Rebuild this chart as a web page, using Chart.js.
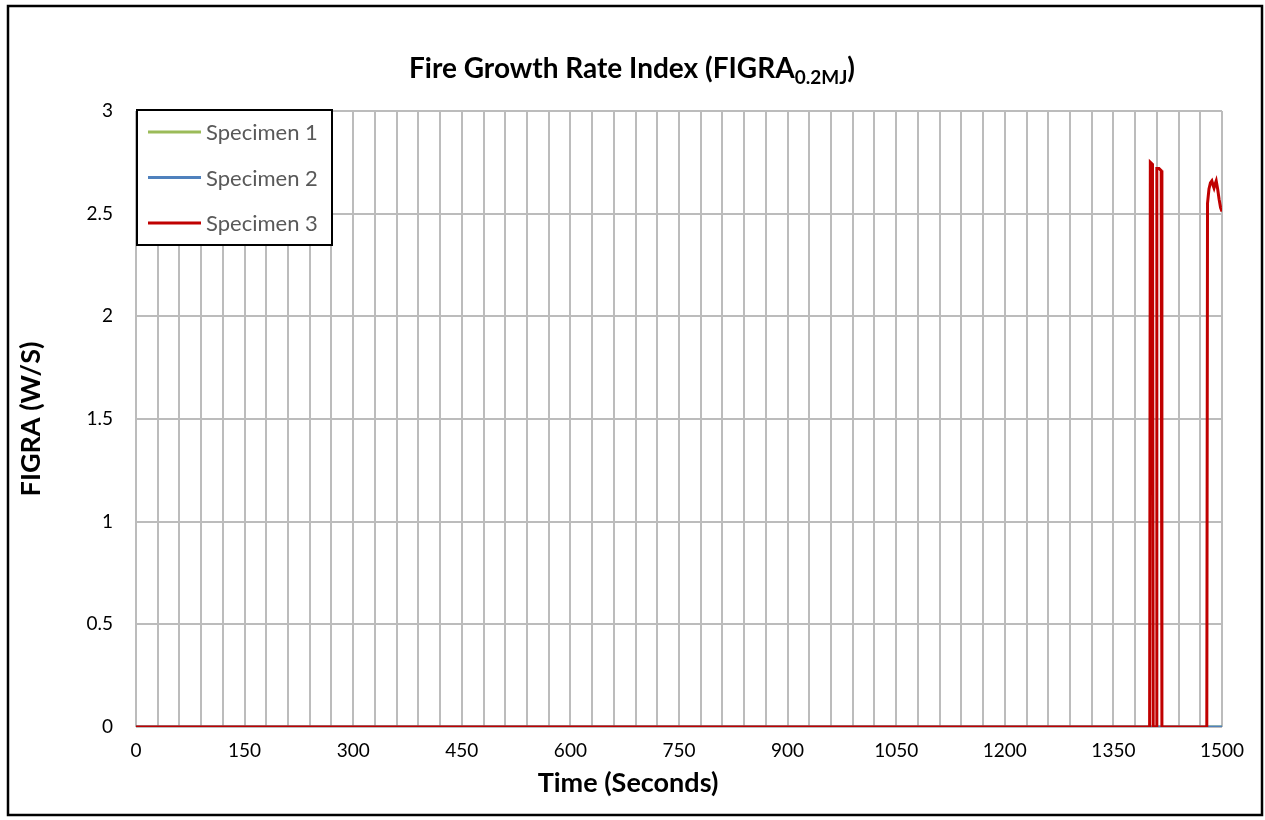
<!DOCTYPE html>
<html>
<head>
<meta charset="utf-8">
<title>Fire Growth Rate Index</title>
<script src="https://cdn.jsdelivr.net/npm/chart.js@4/dist/chart.umd.min.js"></script>
<style>
  html, body { margin: 0; padding: 0; background: #ffffff; }
  #chartBox { position: relative; width: 1265px; height: 820px; }
</style>
</head>
<body>
<div id="chartBox">
  <canvas id="figraChart" width="1265" height="820"></canvas>
</div>
<script>
// ------- Dati -------
const seriesLabels = ['Specimen 1', 'Specimen 2', 'Specimen 3'];
const seriesColors = ['#9bbb59', '#4f81bd', '#c00000'];

// Specimen 1 e 2 restano a zero per tutta la prova
const timeSpec1 = [0, 1500];
const figraSpec1 = [0, 0];
const timeSpec2 = [0, 1500];
const figraSpec2 = [0, 0];

// Specimen 3: zero fino a ~1400 s, poi picchi
const timeSpec3 = [0, 1400, 1401, 1404, 1405, 1409, 1410, 1413, 1416, 1417,
  1479, 1480, 1482, 1484, 1486, 1488, 1489, 1491, 1492, 1494, 1496, 1498, 1500];
const figraSpec3 = [0, 0, 2.75, 2.74, 0, 0, 2.72, 2.72, 2.71, 0,
  0, 2.55, 2.62, 2.65, 2.66, 2.635, 2.625, 2.65, 2.66, 2.62, 2.57, 2.53, 2.51];

// Assi
const xMin = 0, xMax = 1500, xGridStep = 30, xLabelStep = 150;
const yMin = 0, yMax = 3, yStep = 0.5;

function toPoints(times, values) {
  return times.map((t, i) => ({ x: t, y: values[i] }));
}

const FONT = 'Lato, "Open Sans", sans-serif';
const GRID = '#bcbcbc';

// ------- Plugin: cornice, titoli, legenda interna -------
const chartDecor = {
  id: 'chartDecor',
  beforeDraw(chart) {
    const ctx = chart.ctx;
    ctx.save();
    ctx.fillStyle = '#ffffff';
    ctx.fillRect(0, 0, chart.width, chart.height);
    ctx.restore();
  },
  afterDraw(chart) {
    const ctx = chart.ctx;
    const area = chart.chartArea;
    ctx.save();

    // Cornice esterna
    ctx.strokeStyle = '#000000';
    ctx.lineWidth = 2.5;
    ctx.strokeRect(8, 6, 1254, 809);

    // Titolo: "Fire Growth Rate Index (FIGRA" + pedice "0.2MJ" + ")"
    const mainFont = 'bold 28px ' + FONT;
    const subFont = 'bold 19px ' + FONT;
    const partA = 'Fire Growth Rate Index (FIGRA';
    const partSub = '0.2MJ';
    const partB = ')';
    ctx.font = mainFont;
    const wA = ctx.measureText(partA).width;
    const wB = ctx.measureText(partB).width;
    ctx.font = subFont;
    const wS = ctx.measureText(partSub).width;
    const total = wA + wS + wB;
    let tx = 632 - total / 2;
    const ty = 78;
    ctx.fillStyle = '#000000';
    ctx.textBaseline = 'alphabetic';
    ctx.textAlign = 'left';
    ctx.font = mainFont;
    ctx.fillText(partA, tx, ty);
    tx += wA;
    ctx.font = subFont;
    ctx.fillText(partSub, tx, ty + 6);
    tx += wS;
    ctx.font = mainFont;
    ctx.fillText(partB, tx, ty);

    // Titoli degli assi
    ctx.font = 'bold 27px ' + FONT;
    ctx.textAlign = 'center';
    ctx.textBaseline = 'middle';
    ctx.fillText('Time (Seconds)', 628, 783);
    ctx.save();
    ctx.translate(31, (area.top + area.bottom) / 2);
    ctx.rotate(-Math.PI / 2);
    ctx.fillText('FIGRA (W/S)', 0, 0);
    ctx.restore();

    // Legenda dentro l'area del grafico
    const box = { x: 137, y: 110, w: 195, h: 135 };
    ctx.fillStyle = '#ffffff';
    ctx.fillRect(box.x, box.y, box.w, box.h);
    ctx.strokeStyle = '#000000';
    ctx.lineWidth = 2;
    ctx.strokeRect(box.x, box.y, box.w, box.h);
    ctx.font = '22px ' + FONT;
    ctx.textAlign = 'left';
    ctx.textBaseline = 'middle';
    seriesLabels.forEach((label, i) => {
      const rowY = 132 + i * 45.5;
      ctx.strokeStyle = seriesColors[i];
      ctx.lineWidth = 3;
      ctx.beginPath();
      ctx.moveTo(148, rowY);
      ctx.lineTo(201, rowY);
      ctx.stroke();
      ctx.fillStyle = '#595959';
      ctx.fillText(label, 206, rowY + 1);
    });

    ctx.restore();
  }
};

// ------- Grafico -------
const ctx = document.getElementById('figraChart').getContext('2d');
const figraChart = new Chart(ctx, {
  type: 'line',
  data: {
    datasets: [
      {
        label: seriesLabels[0],
        data: toPoints(timeSpec1, figraSpec1),
        borderColor: seriesColors[0],
        borderWidth: 3,
        order: 2
      },
      {
        label: seriesLabels[1],
        data: toPoints(timeSpec2, figraSpec2),
        borderColor: seriesColors[1],
        borderWidth: 3,
        order: 1
      },
      {
        label: seriesLabels[2],
        data: toPoints(timeSpec3, figraSpec3),
        borderColor: seriesColors[2],
        borderWidth: 3,
        order: 0
      }
    ]
  },
  options: {
    responsive: false,
    animation: false,
    devicePixelRatio: 1,
    elements: {
      point: { radius: 0 },
      line: { tension: 0, fill: false }
    },
    layout: {
      padding: { top: 111, right: 43, bottom: 0, left: 0 }
    },
    plugins: {
      legend: { display: false },
      title: { display: false },
      tooltip: { enabled: false }
    },
    scales: {
      x: {
        type: 'linear',
        min: xMin,
        max: xMax,
        afterFit(scale) { scale.height = 93; },
        ticks: {
          stepSize: xGridStep,
          autoSkip: false,
          maxRotation: 0,
          padding: 12,
          color: '#000000',
          font: { family: FONT, size: 19 },
          callback: function(value) {
            return value % xLabelStep === 0 ? String(value) : '';
          }
        },
        grid: { color: GRID, lineWidth: 2, drawTicks: false },
        border: { display: false },
        title: { display: false }
      },
      y: {
        min: yMin,
        max: yMax,
        afterFit(scale) { scale.width = 136; },
        ticks: {
          stepSize: yStep,
          padding: 23,
          color: '#000000',
          font: { family: FONT, size: 19 },
          callback: function(value) { return String(value); }
        },
        grid: { color: GRID, lineWidth: 2, drawTicks: false },
        border: { display: false },
        title: { display: false }
      }
    }
  },
  plugins: [chartDecor]
});
</script>
</body>
</html>
